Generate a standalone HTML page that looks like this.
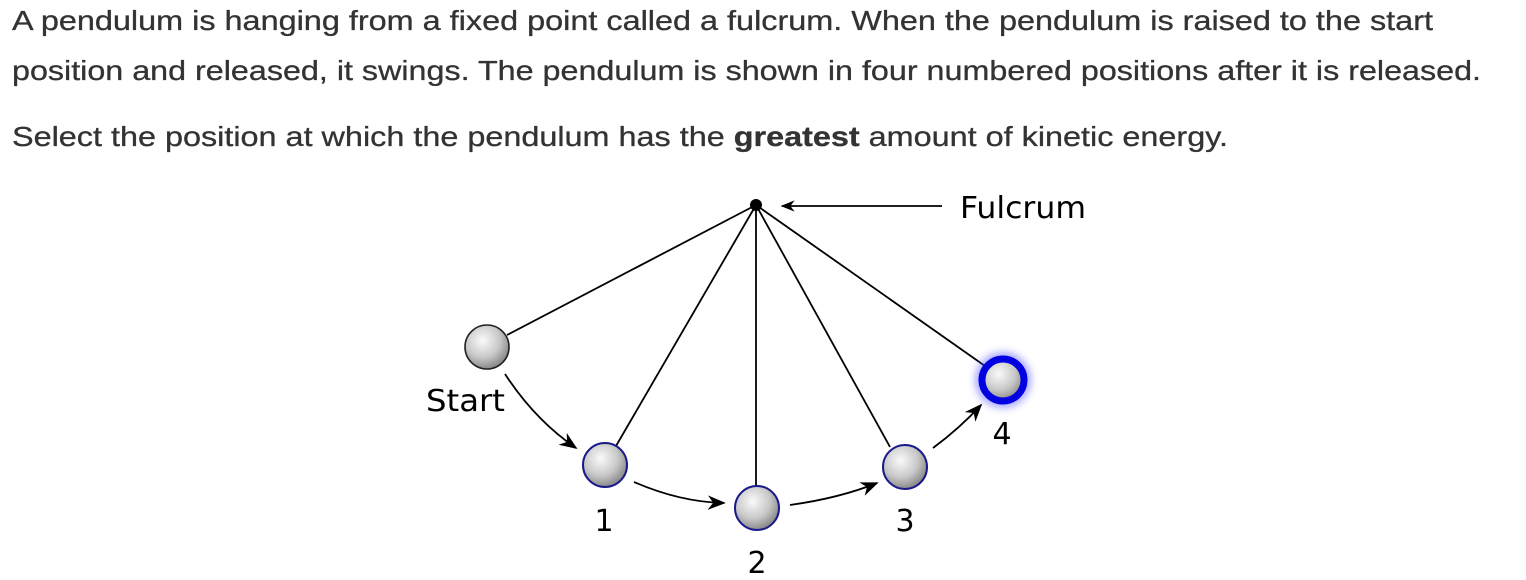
<!DOCTYPE html>
<html><head><style>html,body{margin:0;padding:0;background:#fff;}svg{display:block}</style></head>
<body>
<svg width="1526" height="580" viewBox="0 0 1526 580" xmlns="http://www.w3.org/2000/svg">
<defs>
<radialGradient id="g" cx="0.4" cy="0.35" r="0.65">
<stop offset="0" stop-color="#fafafa"/><stop offset="0.6" stop-color="#c8c8c8"/><stop offset="1" stop-color="#8a8a8a"/></radialGradient>
<filter id="glow" x="-50%" y="-50%" width="200%" height="200%"><feGaussianBlur stdDeviation="4"/></filter>
<marker id="a" viewBox="0 0 10 10" refX="9" refY="5" markerWidth="16" markerHeight="14" markerUnits="userSpaceOnUse" orient="auto"><path d="M0,1 L10,5 L0,9 L3,5 Z" fill="#000"/></marker>
<marker id="b" viewBox="0 0 10 10" refX="9" refY="5" markerWidth="18" markerHeight="18" markerUnits="userSpaceOnUse" orient="auto"><path d="M0,1 L10,5 L0,9 L3,5 Z" fill="#000"/></marker>
</defs>
<g font-family="Liberation Sans, Arial, sans-serif" font-size="28" fill="#333" stroke="#333" stroke-width="0.3">
<text x="12" y="30" textLength="1421" lengthAdjust="spacingAndGlyphs">A pendulum is hanging from a fixed point called a fulcrum. When the pendulum is raised to the start</text>
<text x="12" y="80" textLength="1469" lengthAdjust="spacingAndGlyphs">position and released, it swings. The pendulum is shown in four numbered positions after it is released.</text>
<text x="12" y="146" textLength="1216" lengthAdjust="spacingAndGlyphs">Select the position at which the pendulum has the <tspan font-weight="bold">greatest</tspan> amount of kinetic energy.</text>
</g>
<g stroke="#000" stroke-width="1.8" fill="none">
<line x1="756" y1="205" x2="507" y2="335"/>
<line x1="756" y1="205" x2="616" y2="446"/>
<line x1="756" y1="205" x2="756" y2="486"/>
<line x1="756" y1="205" x2="890" y2="447"/>
<line x1="756" y1="205" x2="985" y2="366"/>
<line x1="942" y1="206" x2="782" y2="206" marker-end="url(#a)"/>
<path d="M505,374 Q535,420 576,448" marker-end="url(#b)"/>
<path d="M634,482 Q680,502 724,503" marker-end="url(#b)"/>
<path d="M790,505 Q840,498 877,483" marker-end="url(#b)"/>
<path d="M933,448 Q960,428 981,405" marker-end="url(#b)"/>
</g>
<circle cx="756" cy="205" r="6" fill="#000"/>
<circle cx="487" cy="347" r="22" fill="url(#g)" stroke="#222" stroke-width="1.6"/>
<g stroke="#1a1a8a" stroke-width="2">
<circle cx="605" cy="465" r="22" fill="url(#g)"/>
<circle cx="757" cy="508" r="22" fill="url(#g)"/>
<circle cx="905" cy="467" r="22" fill="url(#g)"/>
</g>
<circle cx="1003" cy="380" r="28" fill="#5050ff" opacity="0.5" filter="url(#glow)"/>
<circle cx="1003" cy="380" r="21" fill="url(#g)" stroke="#0000e0" stroke-width="7"/>
<g font-family="DejaVu Sans, Verdana, sans-serif" font-size="30" fill="#000">
<text x="960" y="218" textLength="126" lengthAdjust="spacingAndGlyphs">Fulcrum</text>
<text x="426" y="411" textLength="79" lengthAdjust="spacingAndGlyphs">Start</text>
<text x="604" y="531" text-anchor="middle">1</text>
<text x="757" y="573" text-anchor="middle">2</text>
<text x="905" y="531" text-anchor="middle">3</text>
<text x="1002" y="444" text-anchor="middle">4</text>
</g>
</svg>
</body></html>
